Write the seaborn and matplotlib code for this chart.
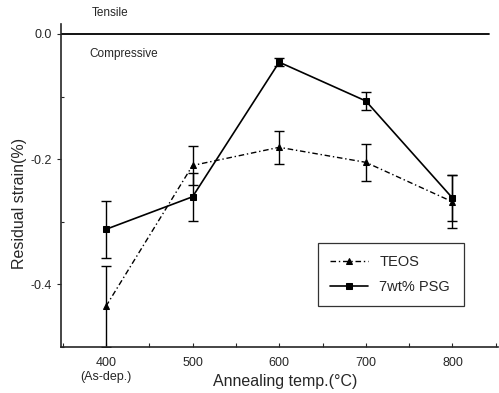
import numpy as np
import pandas as pd
import seaborn as sns
import matplotlib.pyplot as plt
from matplotlib.ticker import MultipleLocator

# Values
temps = [400, 500, 600, 700, 800]
teos = [-0.435, -0.210, -0.181, -0.205, -0.268]
teos_err = [0.065, 0.031, 0.026, 0.030, 0.042]
psg = [-0.312, -0.260, -0.045, -0.107, -0.262]
psg_err = [0.046, 0.038, 0.006, 0.014, 0.036]
tick_labels = ["400\n(As-dep.)", "500", "600", "700", "800"]

df = pd.DataFrame({"temp": temps, "TEOS": teos, "PSG": psg})

sns.set_style("ticks")
plt.rcParams["font.family"] = ["Liberation Sans", "DejaVu Sans"]

fig = plt.figure(figsize=(4.99, 3.93), dpi=100)
ax = fig.add_axes([0.122, 0.117, 0.875, 0.822])

# TEOS series
sns.lineplot(data=df, x="temp", y="TEOS", ax=ax, color="black", lw=1.0,
             linestyle=(0, (4, 2, 1, 2)), marker="^", markersize=5,
             markeredgecolor="black", label="TEOS")
ax.errorbar(temps, teos, yerr=teos_err, fmt="none", ecolor="black",
            elinewidth=1.0, capsize=3.6, capthick=1.0)

# 7wt% PSG series
sns.lineplot(data=df, x="temp", y="PSG", ax=ax, color="black", lw=1.2,
             linestyle="-", marker="s", markersize=4.5,
             markeredgecolor="black", label="7wt% PSG")
ax.errorbar(temps, psg, yerr=psg_err, fmt="none", ecolor="black",
            elinewidth=1.0, capsize=3.6, capthick=1.0)

ax.axhline(0.0, xmax=0.98, color="black", lw=1.3)

ax.set_xlim(348, 852)
ax.set_ylim(-0.5, 0.016)
ax.set_xticks(temps)
ax.set_xticklabels(tick_labels, fontsize=9)
ax.xaxis.set_minor_locator(MultipleLocator(50))
ax.set_yticks([0.0, -0.2, -0.4])
ax.set_yticklabels(["0.0", "-0.2", "-0.4"], fontsize=9)
ax.yaxis.set_minor_locator(MultipleLocator(0.1))
ax.tick_params(axis="x", which="both", direction="in", length=3, width=0.8,
               pad=7)
ax.tick_params(axis="y", which="major", direction="out", length=3, width=0.8)
ax.tick_params(axis="y", which="minor", direction="in", length=2, width=0.8)

for side in ["top", "right"]:
    ax.spines[side].set_visible(False)
for side in ["left", "bottom"]:
    ax.spines[side].set_linewidth(1.2)

ax.set_xlabel("Annealing temp.(\u00b0C)", fontsize=11.5)
ax.xaxis.set_label_coords(0.513, -0.082)
ax.set_ylabel("Residual strain(%)", fontsize=11.5)
ax.yaxis.set_label_coords(-0.078, 0.443)

ax.text(0.071, 1.034, "Tensile", transform=ax.transAxes, fontsize=8.5,
        ha="left", va="center")
ax.text(0.066, 0.907, "Compressive", transform=ax.transAxes, fontsize=8.5,
        ha="left", va="center")

leg = ax.legend(loc="lower left", bbox_to_anchor=(0.589, 0.127, 0.334, 0.198),
                mode="expand", borderaxespad=0, fontsize=10.5, frameon=True,
                fancybox=False, edgecolor="black", handlelength=2.6,
                borderpad=0.8, labelspacing=0.8)
leg.get_frame().set_linewidth(0.9)

fig.savefig("out.png", dpi=100)
